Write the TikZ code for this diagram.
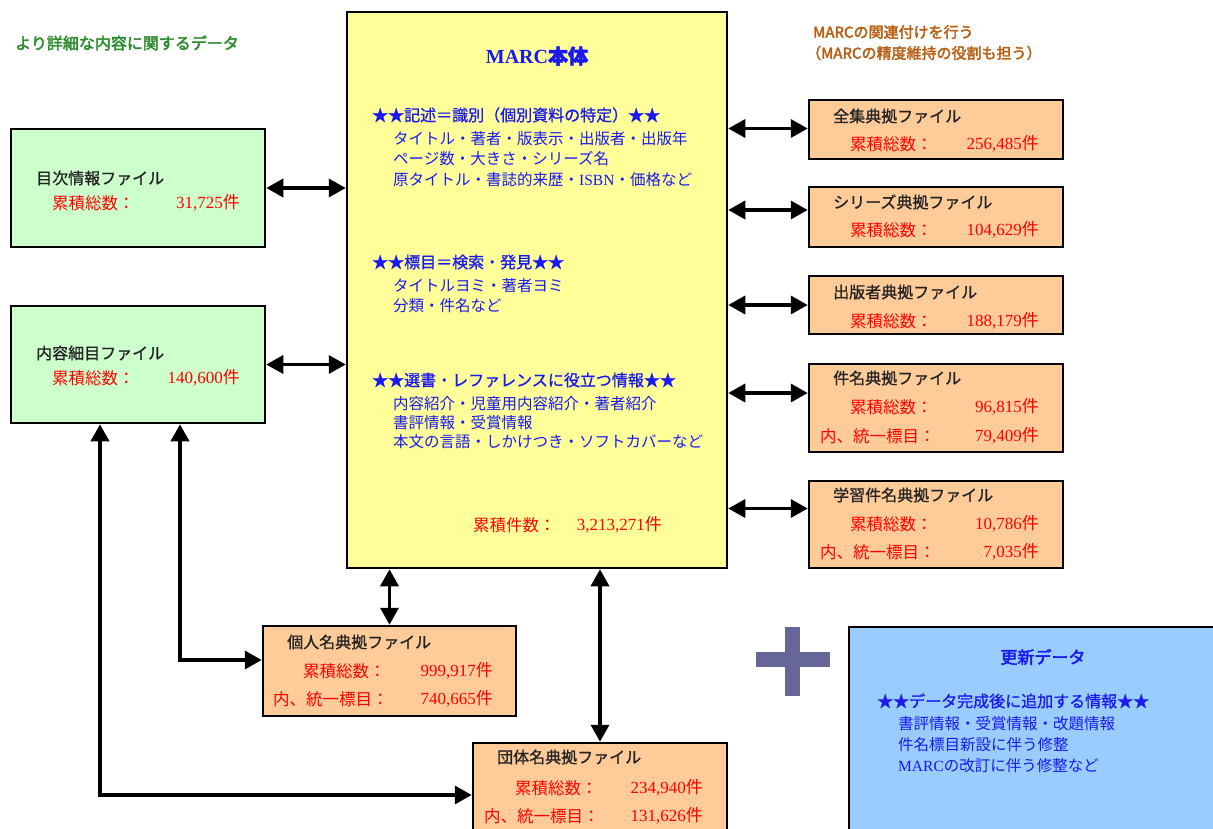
\documentclass[tikz,border=0pt]{standalone}
\usepackage{fontspec}
\setmainfont{Liberation Serif}
\newfontfamily\jp{Noto Sans CJK JP}
\newfontfamily\jpm{Noto Sans CJK JP}[FakeBold=1]
\newfontfamily\jpb{Noto Sans CJK JP}[FakeBold=2.5]
\usetikzlibrary{arrows.meta}
\definecolor{cyellow}{HTML}{FFFF99}
\definecolor{cgreen}{HTML}{CCFFCC}
\definecolor{corange}{HTML}{FFCC99}
\definecolor{cblue}{HTML}{99CCFF}
\definecolor{tblue}{RGB}{25,25,240}
\definecolor{tred}{RGB}{255,0,0}
\definecolor{tdark}{RGB}{35,35,35}
\definecolor{tgreen}{RGB}{45,140,45}
\definecolor{tbrown}{RGB}{185,95,20}
\definecolor{cplus}{HTML}{666699}
\newcommand\myfs[1]{\fontsize{#1}{#1}\selectfont}
\tikzset{
  box/.style={draw=black, line width=2.5pt, inner sep=0pt},
  txt/.style={anchor=west, inner sep=0pt},
  rtxt/.style={anchor=east, inner sep=0pt},
  ftitle/.style={txt, text=tdark, font=\jpm\myfs{16}},
  fcount/.style={txt, text=tred, font=\jp\myfs{16.5}},
  fnum/.style={rtxt, text=tred, font=\myfs{17}},
  bhead/.style={txt, text=tblue, font=\jpm\myfs{16}},
  bbody/.style={txt, text=tblue, font=\jp\myfs{15.5}},
  tip/.tip={Triangle[width=18pt,length=17pt]},
  dbl/.style={line width=3.5pt, tip-tip},
}
\begin{document}
\begin{tikzpicture}[x=1pt,y=-1pt]
\useasboundingbox[fill=white] (0,0) rectangle (1213,828);

% boxes
\node[box, fill=cyellow, minimum width=380pt, minimum height=556pt] (marc) at (537,290) {};
\node[box, fill=cgreen, minimum width=254pt, minimum height=118pt] (mokuji) at (138,188) {};
\node[box, fill=cgreen, minimum width=254pt, minimum height=117pt] (naiyou) at (138,364.5) {};
\node[box, fill=corange, minimum width=254pt, minimum height=59pt] (zenshu) at (936,129.5) {};
\node[box, fill=corange, minimum width=254pt, minimum height=60pt] (series) at (936,217) {};
\node[box, fill=corange, minimum width=254pt, minimum height=58pt] (shuppan) at (936,305) {};
\node[box, fill=corange, minimum width=254pt, minimum height=88pt] (kenmei) at (936,408) {};
\node[box, fill=corange, minimum width=254pt, minimum height=87pt] (gakushu) at (936,524.5) {};
\node[box, fill=corange, minimum width=253pt, minimum height=90pt] (kojin) at (389.5,671) {};
\node[box, fill=corange, minimum width=254pt, minimum height=117pt] (dantai) at (600,801.5) {};
\node[box, fill=cblue, minimum width=391pt, minimum height=233pt] (koushin) at (1044.5,743.5) {};

% plus sign
\fill[cplus] (785,627) rectangle (800,696);
\fill[cplus] (756,652) rectangle (830,667);

% free labels
\node[txt, text=tgreen, font=\jpb\myfs{16}] (lgreen) at (15,43) {より詳細な内容に関するデータ};
\node[txt, text=tbrown, font=\jpb\myfs{15}] (lbrown1) at (813,32) {MARCの関連付けを行う};
\node[txt, text=tbrown, font=\jpb\myfs{15}] (lbrown2) at (806,53) {（MARCの精度維持の役割も担う）};

% MARC text
\node[anchor=center, inner sep=0pt, text=tblue, font=\bfseries\myfs{20}] (mtitle) at (537,56) {MARC{\jpb 本体}};
\node[bhead] (m1) at (372,115) {★★記述＝識別（個別資料の特定）★★};
\node[bbody] (m1a) at (393,139) {タイトル・著者・版表示・出版者・出版年};
\node[bbody] (m1b) at (393,159) {ページ数・大きさ・シリーズ名};
\node[bbody] (m1c) at (393,180) {原タイトル・書誌的来歴・\normalfont ISBN\jp ・価格など};
\node[bhead] (m2) at (372,262) {★★標目＝検索・発見★★};
\node[bbody] (m2a) at (393,286) {タイトルヨミ・著者ヨミ};
\node[bbody] (m2b) at (393,306) {分類・件名など};
\node[bhead] (m3) at (372,380) {★★選書・レファレンスに役立つ情報★★};
\node[bbody] (m3a) at (393,404) {内容紹介・児童用内容紹介・著者紹介};
\node[bbody] (m3b) at (393,423) {書評情報・受賞情報};
\node[bbody] (m3c) at (393,442) {本文の言語・しかけつき・ソフトカバーなど};
\node[fcount] (mc) at (473,525) {累積件数：};
\node[fnum] (mn) at (662,525) {3,213,271{\jp 件}};

% green boxes text
\node[ftitle] (mkt) at (36,178) {目次情報ファイル};
\node[fcount] (mkc) at (52,203) {累積総数：};
\node[fnum] (mkn) at (240,203) {31,725{\jp 件}};
\node[ftitle] (nyt) at (36,353) {内容細目ファイル};
\node[fcount] (nyc) at (52,378) {累積総数：};
\node[fnum] (nyn) at (240,378) {140,600{\jp 件}};

% right boxes text
\node[ftitle] (zst) at (833,116) {全集典拠ファイル};
\node[fcount] (zsc) at (850,144) {累積総数：};
\node[fnum] (zsn) at (1039,144) {256,485{\jp 件}};
\node[ftitle] (srt) at (833,202) {シリーズ典拠ファイル};
\node[fcount] (src) at (850,230) {累積総数：};
\node[fnum] (srn) at (1039,230) {104,629{\jp 件}};
\node[ftitle] (spt) at (833,292) {出版者典拠ファイル};
\node[fcount] (spc) at (850,321) {累積総数：};
\node[fnum] (spn) at (1039,321) {188,179{\jp 件}};
\node[ftitle] (kmt) at (833,378) {件名典拠ファイル};
\node[fcount] (kmc) at (850,407) {累積総数：};
\node[fnum] (kmn) at (1039,407) {96,815{\jp 件}};
\node[fcount] (kmu) at (820,436) {内、統一標目：};
\node[fnum] (kmv) at (1039,436) {79,409{\jp 件}};
\node[ftitle] (gkt) at (833,495) {学習件名典拠ファイル};
\node[fcount] (gkc) at (850,524) {累積総数：};
\node[fnum] (gkn) at (1039,524) {10,786{\jp 件}};
\node[fcount] (gku) at (820,552) {内、統一標目：};
\node[fnum] (gkv) at (1039,552) {7,035{\jp 件}};

% bottom boxes text
\node[ftitle] (kjt) at (287,642) {個人名典拠ファイル};
\node[fcount] (kjc) at (303,671) {累積総数：};
\node[fnum] (kjn) at (493,671) {999,917{\jp 件}};
\node[fcount] (kju) at (273,699) {内、統一標目：};
\node[fnum] (kjv) at (493,699) {740,665{\jp 件}};
\node[ftitle] (dtt) at (497,757) {団体名典拠ファイル};
\node[fcount] (dtc) at (515,788) {累積総数：};
\node[fnum] (dtn) at (703,788) {234,940{\jp 件}};
\node[fcount] (dtu) at (484,816) {内、統一標目：};
\node[fnum] (dtv) at (703,816) {131,626{\jp 件}};

% update box text
\node[anchor=center, inner sep=0pt, text=tblue, font=\jpb\myfs{17}] (kst) at (1043,657) {更新データ};
\node[bhead] (ks1) at (877,701) {★★データ完成後に追加する情報★★};
\node[bbody] (ks2) at (898,724) {書評情報・受賞情報・改題情報};
\node[bbody] (ks3) at (898,745) {件名標目新設に伴う修整};
\node[bbody] (ks4) at (898,766) {\normalfont MARC\jp の改訂に伴う修整など};

% connectors
\coordinate (bendA) at (100,795);
\coordinate (bendB) at (180,660);
\draw[dbl] (mokuji.east) -- (mokuji.east -| marc.west);
\draw[dbl] (naiyou.east) -- (naiyou.east -| marc.west);
\draw[dbl] ([yshift=1pt]zenshu.west -| marc.east) -- ([yshift=1pt]zenshu.west);
\draw[dbl] ([yshift=7pt]series.west -| marc.east) -- ([yshift=7pt]series.west);
\draw[dbl] (shuppan.west -| marc.east) -- (shuppan.west);
\draw[dbl] ([yshift=15pt]kenmei.west -| marc.east) -- ([yshift=15pt]kenmei.west);
\draw[dbl] ([yshift=16pt]gakushu.west -| marc.east) -- ([yshift=16pt]gakushu.west);
\draw[dbl] (kojin.north |- marc.south) -- (kojin.north);
\draw[dbl] (dantai.north |- marc.south) -- (dantai.north);
\draw[dbl] (naiyou.south -| bendA) -- (bendA) -- (bendA -| dantai.west);
\draw[dbl] (naiyou.south -| bendB) -- (bendB) -- (bendB -| kojin.west);
\end{tikzpicture}
\end{document}
